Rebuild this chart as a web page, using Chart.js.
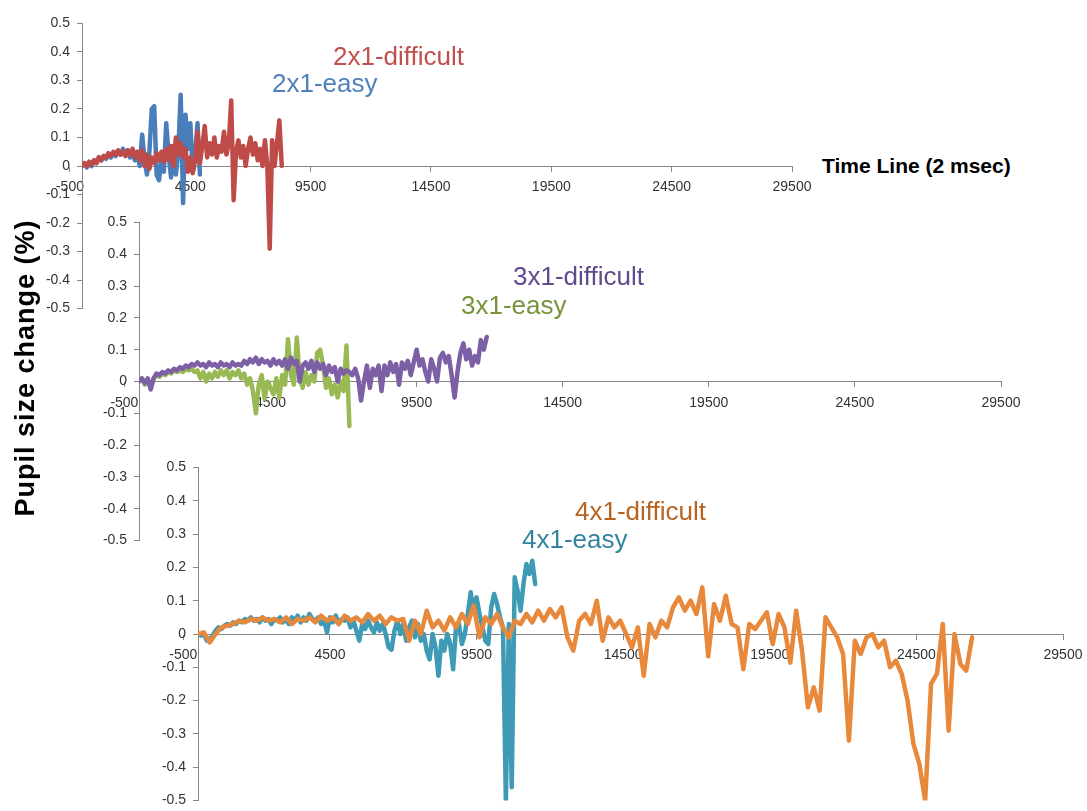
<!DOCTYPE html>
<html>
<head>
<meta charset="utf-8">
<title>Pupil size change</title>
<script src="https://cdn.jsdelivr.net/npm/chart.js@4.4.1/dist/chart.umd.min.js"></script>
<style>
  html, body { margin: 0; padding: 0; background: #fff; width: 1087px; height: 811px; overflow: hidden; }
  canvas { position: absolute; }
  .lbl { position: absolute; font-family: 'Liberation Sans', Arial, sans-serif; font-size: 26px; line-height: 26px; white-space: nowrap; }
  .axisTitle { position: absolute; font-family: 'Liberation Sans', Arial, sans-serif; font-weight: bold; color: #000; white-space: nowrap; }
</style>
</head>
<body>
<canvas id="panel1" width="795" height="316" style="left:27px; top:8px;"></canvas>
<canvas id="panel2" width="947" height="349" style="left:84px; top:207px;"></canvas>
<canvas id="panel3" width="950" height="364" style="left:143px; top:452px;"></canvas>

<div class="lbl" style="left:333px; top:43px; color:#C0504D;">2x1-difficult</div>
<div class="lbl" style="left:272px; top:70px; color:#4F81BD;">2x1-easy</div>
<div class="lbl" style="left:513px; top:263px; color:#604A8B;">3x1-difficult</div>
<div class="lbl" style="left:461px; top:292px; color:#77933C;">3x1-easy</div>
<div class="lbl" style="left:575px; top:498px; color:#B86420;">4x1-difficult</div>
<div class="lbl" style="left:522px; top:526px; color:#31859C;">4x1-easy</div>

<div class="axisTitle" style="left:822px; top:155px; font-size:21px; line-height:21px;">Time Line (2 msec)</div>
<div class="axisTitle" style="left:-135px; top:353px; width:320px; height:30px; line-height:30px; font-size:27px; letter-spacing:1px; text-align:center; transform:rotate(-90deg);">Pupil size change (%)</div>

<script>
// x axis: time line in 2 msec samples, same ticks on every panel
var timeTicks = [-500, 4500, 9500, 14500, 19500, 24500, 29500];

// samples start at 0, one value every `step` samples
var step2x1 = 100;
var easy2x1 = [0.00, 0.01, -0.005, 0.01, 0.00, 0.02, 0.01, 0.03, 0.02, 0.035,
  0.025, 0.04, 0.03, 0.045, 0.035, 0.05, 0.04, 0.06, 0.045, 0.055,
  0.03, 0.045, 0.02, 0.04, 0.0, 0.11, 0.02, -0.03, 0.05, 0.20,
  0.21, -0.03, -0.05, 0.02, -0.02, 0.15, 0.04, -0.04, 0.07, -0.03,
  0.05, 0.25, -0.13, 0.18, 0.06, 0.15, -0.02, 0.04, 0.15, -0.03];
var difficult2x1 = [0.0, 0.01, 0.0, 0.015, 0.005, 0.02, 0.01, 0.03, 0.02, 0.035,
  0.03, 0.045, 0.035, 0.05, 0.04, 0.055, 0.04, 0.05, 0.035, 0.055,
  0.04, 0.06, 0.03, 0.05, 0.02, 0.055, 0.0, 0.04, -0.01, 0.03,
  0.01, 0.045, 0.02, 0.05, 0.015, 0.06, 0.02, 0.07, 0.0, 0.1,
  0.04, 0.08, 0.03, 0.06, -0.02, 0.03, -0.025, 0.02, 0.12, 0.01,
  0.07, 0.14, 0.03, 0.08, 0.04, 0.1, 0.03, 0.07, 0.05, 0.12,
  0.04, 0.08, 0.23, -0.12, 0.05, 0.09, 0.03, 0.07, 0.0, 0.06,
  0.1, 0.04, 0.08, 0.02, 0.06, 0.0, 0.09, 0.0, -0.29, 0.09,
  0.0, 0.08, 0.16, 0.0];

var step3x1 = 100;
var easy3x1 = [0.0, 0.01, -0.01, 0.005, -0.02, 0.01, 0.02, 0.015, 0.025, 0.02,
  0.03, 0.025, 0.035, 0.03, 0.035, 0.03, 0.04, 0.035, 0.04, 0.03,
  0.035, 0.01, 0.03, 0.0, 0.025, 0.01, 0.03, 0.015, 0.035, 0.02,
  0.035, 0.01, 0.03, 0.02, 0.035, 0.01, 0.025, -0.01, 0.01, -0.03,
  -0.1, -0.01, 0.02, -0.055, 0.0, -0.02, -0.04, 0.01, -0.05, 0.02,
  -0.01, 0.133, 0.02, -0.01, 0.138, 0.01, -0.02, 0.03, -0.01, 0.02,
  0.0, 0.09, 0.1, 0.05, -0.02, 0.01, -0.04, -0.01, -0.05, 0.0,
  -0.03, 0.113, -0.14];
var difficult3x1 = [0.0, 0.01, -0.005, 0.01, -0.025, 0.01, 0.025, 0.02, 0.03, 0.025,
  0.035, 0.03, 0.04, 0.035, 0.045, 0.04, 0.05, 0.045, 0.055, 0.05,
  0.06, 0.05, 0.055, 0.045, 0.06, 0.05, 0.055, 0.045, 0.06, 0.05,
  0.055, 0.045, 0.06, 0.05, 0.055, 0.05, 0.065, 0.055, 0.07, 0.06,
  0.075, 0.055, 0.07, 0.06, 0.065, 0.05, 0.07, 0.055, 0.065, 0.05,
  0.07, 0.04, 0.075, 0.055, 0.065, 0.0, 0.05, 0.06, 0.04, 0.065,
  0.03, 0.06, 0.04, 0.055, 0.02, 0.05, 0.03, 0.045, 0.0, 0.04,
  0.025, 0.035, 0.03, 0.02, 0.04, 0.01, -0.06, 0.0, 0.05, -0.02,
  0.04, 0.02, 0.05, -0.03, 0.05, 0.02, 0.06, 0.03, 0.055, -0.01,
  0.06, 0.04, 0.065, 0.02, 0.06, 0.1, 0.05, 0.07, 0.03, 0.0,
  0.07, 0.04, 0.0, 0.075, 0.09, 0.06, 0.08, 0.02, -0.05, 0.03,
  0.09, 0.12, 0.07, 0.1, 0.05, 0.08, 0.06, 0.13, 0.1, 0.14];

var stepEasy4x1 = 100;
var easy4x1 = [0.0, -0.005, 0.0, -0.02, -0.015, -0.005, 0.01, 0.02, 0.015, 0.025,
  0.03, 0.025, 0.035, 0.03, 0.04, 0.035, 0.045, 0.04, 0.05, 0.04,
  0.045, 0.035, 0.05, 0.04, 0.045, 0.03, 0.045, 0.04, 0.05, 0.035,
  0.045, 0.03, 0.05, 0.04, 0.055, 0.035, 0.05, 0.04, 0.06, 0.045,
  0.04, 0.05, 0.03, 0.04, 0.005, 0.05, 0.035, 0.055, 0.03, 0.045,
  0.04, 0.05, 0.02, 0.04, 0.01, -0.02, 0.03, 0.015, 0.04, 0.02,
  0.005, 0.035, 0.01, 0.03, 0.0, -0.04, -0.047, 0.01, 0.04, 0.0,
  0.03, -0.02, 0.02, 0.04, -0.01, 0.03, -0.02, 0.0, -0.05, -0.076,
  0.0, -0.04, -0.125, -0.02, -0.05, 0.0, -0.03, -0.106, 0.02, 0.03,
  -0.03, 0.0, 0.06, 0.125, 0.07, 0.11, 0.06, 0.02, -0.02, -0.03,
  0.08, 0.12, 0.09, 0.05, 0.02, -0.5, 0.03, -0.46, 0.17, 0.13,
  0.07, 0.15, 0.21, 0.18, 0.22, 0.15];
var stepDifficult4x1 = 200;
var difficult4x1 = [0.0, 0.005, -0.025, 0.0, 0.02, 0.025, 0.03, 0.04, 0.035, 0.045,
  0.04, 0.05, 0.04, 0.045, 0.035, 0.05, 0.03, 0.045, 0.04, 0.05,
  0.035, 0.055, 0.04, 0.05, 0.03, 0.055, 0.04, 0.05, 0.035, 0.06,
  0.04, 0.055, 0.03, 0.05, 0.04, 0.045, -0.02, 0.04, 0.0, 0.07,
  0.02, 0.04, 0.01, 0.05, 0.02, 0.06, 0.03, 0.085, -0.01, 0.05,
  0.03, 0.06, 0.02, -0.01, 0.04, 0.03, 0.06, 0.035, 0.07, 0.04,
  0.075, 0.05, 0.08, -0.01, -0.05, 0.04, 0.06, 0.03, 0.1, -0.02,
  0.05, 0.02, 0.04, 0.0, -0.04, 0.02, -0.125, 0.03, -0.01, 0.04,
  0.02, 0.08, 0.11, 0.07, 0.1, 0.06, 0.14, -0.067, 0.09, 0.04,
  0.115, 0.03, 0.02, -0.106, 0.03, 0.015, 0.04, 0.065, -0.03, 0.06,
  0.02, -0.086, 0.07, -0.05, -0.22, -0.16, -0.23, 0.05, 0.02, -0.01,
  -0.06, -0.32, -0.02, -0.06, -0.01, 0.0, -0.04, -0.02, -0.1, -0.08,
  -0.12, -0.2, -0.33, -0.39, -0.5, -0.15, -0.12, 0.03, -0.29, 0.0,
  -0.09, -0.11, -0.01];

function toPoints(values, step) {
  return values.map(function(v, i) { return { x: i * step, y: v }; });
}

Chart.defaults.font.family = "'Liberation Sans', Arial, sans-serif";
Chart.defaults.font.size = 14;
Chart.defaults.color = '#333';

var axisGrey = '#868686';

function line(label, values, step, color) {
  return {
    label: label,
    data: toPoints(values, step),
    borderColor: color,
    borderWidth: 4.5,
    borderJoinStyle: 'round',
    borderCapStyle: 'round',
    pointRadius: 0,
    tension: 0,
    fill: false
  };
}

function makePanel(id, datasets) {
  var ctx = document.getElementById(id).getContext('2d');
  return new Chart(ctx, {
    type: 'line',
    data: { datasets: datasets },
    options: {
      responsive: false,
      animation: false,
      layout: { padding: { left: 5, right: 30, top: 12, bottom: 12 } },
      plugins: { legend: { display: false }, tooltip: { enabled: false } },
      scales: {
        x: {
          type: 'linear',
          position: { y: 0 },
          min: 0,
          max: 29500,
          afterBuildTicks: function(scale) {
            scale.ticks = timeTicks.map(function(v) { return { value: v }; });
          },
          ticks: {
            autoSkip: false,
            maxRotation: 0,
            padding: 8,
            callback: function(v) { return String(v); }
          },
          grid: { drawOnChartArea: false, drawTicks: true, tickLength: 5, color: axisGrey },
          border: { color: axisGrey, width: 1 }
        },
        y: {
          type: 'linear',
          min: -0.5,
          max: 0.5,
          afterFit: function(scale) { scale.width = 50; },
          ticks: {
            stepSize: 0.1,
            padding: 7,
            callback: function(v) { return String(Math.round(v * 10) / 10); }
          },
          grid: { drawOnChartArea: false, drawTicks: true, tickLength: 5, color: axisGrey },
          border: { color: axisGrey, width: 1 }
        }
      }
    }
  });
}

// first dataset is drawn on top
makePanel('panel1', [
  line('2x1-difficult', difficult2x1, step2x1, '#BE4B48'),
  line('2x1-easy', easy2x1, step2x1, '#4A7EBB')
]);
makePanel('panel2', [
  line('3x1-difficult', difficult3x1, step3x1, '#7D5FA5'),
  line('3x1-easy', easy3x1, step3x1, '#98B954')
]);
makePanel('panel3', [
  line('4x1-difficult', difficult4x1, stepDifficult4x1, '#E8883A'),
  line('4x1-easy', easy4x1, stepEasy4x1, '#3E9AB5')
]);
</script>
</body>
</html>
